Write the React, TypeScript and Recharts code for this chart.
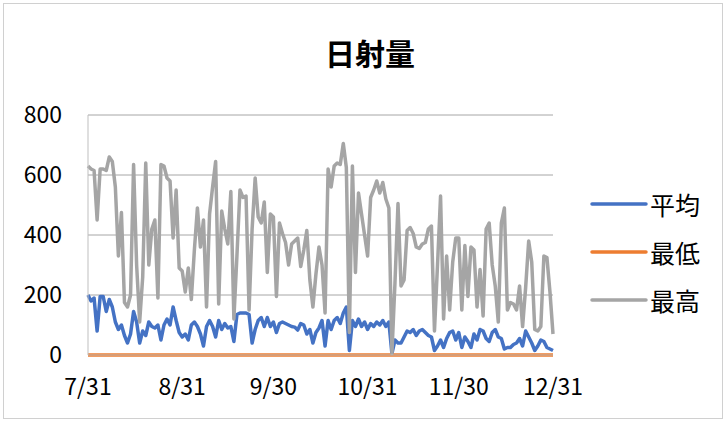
import { LineChart, Line, XAxis, YAxis, CartesianGrid, Legend } from 'recharts';

// 日射量 7/31 - 12/31 (daily)
const avgValues = [
  200, 180, 190, 80, 195, 195, 145, 185, 160, 110,
  85, 100, 65, 40, 70, 145, 110, 40, 80, 65,
  110, 95, 90, 100, 50, 100, 120, 100, 160, 115,
  75, 60, 70, 50, 100, 110, 95, 70, 30, 95,
  115, 95, 60, 115, 85, 105, 90, 95, 45, 135,
  140, 140, 140, 135, 40, 85, 115, 125, 95, 125,
  95, 110, 75, 105, 110, 105, 100, 95, 93, 83,
  105, 100, 70, 85, 40, 75, 90, 115, 30, 115,
  85, 115, 125, 105, 140, 160, 15, 115, 95, 120,
  95, 110, 85, 105, 95, 110, 100, 115, 95, 110,
  5, 50, 40, 40, 60, 80, 75, 85, 65, 80,
  85, 75, 65, 60, 15, 30, 50, 25, 55, 75,
  80, 50, 75, 25, 60, 45, 25, 70, 50, 85,
  80, 55, 45, 75, 85, 60, 55, 20, 25, 25,
  35, 40, 55, 30, 80, 60, 40, 15, 30, 50,
  45, 25, 20, 15,
];

const minValues = [
  0, 0, 0, 0, 0, 0, 0, 0, 0, 0,
  0, 0, 0, 0, 0, 0, 0, 0, 0, 0,
  0, 0, 0, 0, 0, 0, 0, 0, 0, 0,
  0, 0, 0, 0, 0, 0, 0, 0, 0, 0,
  0, 0, 0, 0, 0, 0, 0, 0, 0, 0,
  0, 0, 0, 0, 0, 0, 0, 0, 0, 0,
  0, 0, 0, 0, 0, 0, 0, 0, 0, 0,
  0, 0, 0, 0, 0, 0, 0, 0, 0, 0,
  0, 0, 0, 0, 0, 0, 0, 0, 0, 0,
  0, 0, 0, 0, 0, 0, 0, 0, 0, 0,
  0, 0, 0, 0, 0, 0, 0, 0, 0, 0,
  0, 0, 0, 0, 0, 0, 0, 0, 0, 0,
  0, 0, 0, 0, 0, 0, 0, 0, 0, 0,
  0, 0, 0, 0, 0, 0, 0, 0, 0, 0,
  0, 0, 0, 0, 0, 0, 0, 0, 0, 0,
  0, 0, 0, 0,
];

const maxValues = [
  630, 620, 615, 450, 620, 620, 615, 660, 645, 560,
  330, 475, 175, 160, 200, 635, 300, 110, 260, 640,
  300, 420, 450, 190, 635, 630, 590, 580, 390, 550,
  290, 280, 210, 290, 185, 350, 490, 360, 450, 160,
  470, 560, 645, 170, 480, 420, 370, 545, 120, 330,
  550, 525, 530, 150, 420, 590, 460, 440, 510, 275,
  470, 460, 195, 440, 405, 375, 300, 370, 380, 390,
  295, 350, 415, 250, 160, 270, 360, 300, 140, 620,
  560, 630, 640, 635, 705, 625, 75, 630, 275, 540,
  470, 400, 330, 525, 550, 580, 540, 575, 520, 490,
  5, 240, 505, 230, 250, 415, 425, 405, 360, 355,
  370, 375, 420, 430, 80, 300, 530, 120, 330, 150,
  310, 390, 390, 150, 365, 195, 360, 350, 160, 285,
  130, 420, 440, 300, 230, 110, 440, 490, 150, 175,
  170, 150, 230, 95, 225, 380, 310, 85, 80, 95,
  330, 325, 210, 70,
];

const xTicks = ['7/31', '8/31', '9/30', '10/31', '11/30', '12/31'];
const yTicks = [0, 200, 400, 600, 800];

// date labels starting 7/31
const dates: string[] = [];
for (let i = 0; i < avgValues.length; i++) {
  const d = new Date(2020, 6, 31 + i);
  dates.push(`${d.getMonth() + 1}/${d.getDate()}`);
}

const data = dates.map((date, i) => ({
  date,
  avg: avgValues[i],
  min: minValues[i],
  max: maxValues[i],
}));

const font = '"Noto Sans CJK JP", "Noto Sans", sans-serif';

const renderLegend = (props: any) => {
  const { payload } = props;
  return (
    <div style={{ fontFamily: font }}>
      {payload.map((entry: any) => (
        <div key={entry.value} style={{ display: 'flex', alignItems: 'center', height: 48 }}>
          <svg width={58} height={10}>
            <line x1={2} y1={5} x2={56} y2={5} stroke={entry.color} strokeWidth={3.5} strokeLinecap="round" />
          </svg>
          <span style={{ fontSize: 25, color: '#000', marginLeft: 2 }}>{entry.value}</span>
        </div>
      ))}
    </div>
  );
};

export default function App() {
  return (
    <div style={{ position: 'absolute', left: 0, top: 0, width: 726, height: 422, background: '#fff' }}>
      <div
        style={{
          position: 'absolute',
          left: 3,
          top: 3,
          width: 718,
          height: 414,
          border: '1px solid #d0d0d0',
        }}
      />
      <div
        style={{
          position: 'absolute',
          left: 0,
          width: 740,
          top: 32,
          textAlign: 'center',
          fontFamily: font,
          fontWeight: 'bold',
          fontSize: 30,
          lineHeight: '40px',
          color: '#000',
        }}
      >
        日射量
      </div>
      <LineChart
        width={726}
        height={422}
        data={data}
        margin={{ top: 115, right: 173, bottom: 27, left: 0 }}
      >
        <CartesianGrid vertical={false} stroke="#a6a6a6" strokeWidth={1} />
        <XAxis
          dataKey="date"
          ticks={xTicks}
          interval={0}
          tickLine={false}
          tickSize={0}
          tickMargin={24}
          height={40}
          axisLine={{ stroke: '#bfbfbf' }}
          tick={{ fill: '#000', fontSize: 23, fontFamily: font }}
        />
        <YAxis
          domain={[0, 800]}
          ticks={yTicks}
          width={88}
          tickLine={false}
          tickSize={0}
          tickMargin={26}
          axisLine={{ stroke: '#bfbfbf' }}
          tick={{ fill: '#000', fontSize: 23, fontFamily: font }}
        />
        <Legend
          layout="vertical"
          align="center"
          verticalAlign="middle"
          content={renderLegend}
          wrapperStyle={{ left: 590, top: 180, width: 130 }}
        />
        <Line dataKey="avg" name="平均" stroke="#4472C4" strokeWidth={3.5} strokeLinejoin="round" dot={false} isAnimationActive={false} />
        <Line dataKey="min" name="最低" stroke="#ED7D31" strokeWidth={3.5} strokeLinejoin="round" dot={false} isAnimationActive={false} />
        <Line dataKey="max" name="最高" stroke="#A5A5A5" strokeWidth={3.5} strokeLinejoin="round" dot={false} isAnimationActive={false} />
      </LineChart>
    </div>
  );
}
